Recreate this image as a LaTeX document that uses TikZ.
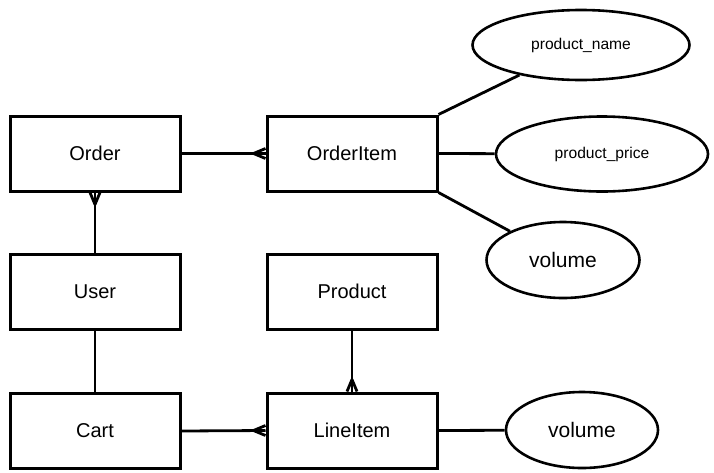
\documentclass[tikz,border=0pt]{standalone}
\usepackage{fontspec}
\setmainfont{Liberation Sans}
\usetikzlibrary{shapes.geometric}

\newcommand{\manyend}[2]{%
  \draw[link] (#1) ++(#2+180:12) -- ++(#2+22.6:13);
  \draw[link] (#1) ++(#2+180:12) -- ++(#2-22.6:13);
}

\begin{document}
\begin{tikzpicture}[x=1pt,y=-1pt,
    entity/.style={draw=black,line width=3pt,minimum width=170pt,minimum height=75pt,inner sep=0pt,font=\fontsize{20}{24}\selectfont},
    attr/.style={draw=black,line width=2.6pt,ellipse,inner sep=0pt,font=\fontsize{15.6}{18}\selectfont},
    link/.style={black,line width=2.8pt}]
              \useasboundingbox (0,0) rectangle (714,472);
              \node[entity] (Order) at (95,153.5) {Order};
              \node[entity] (OrderItem) at (352,153.5) {OrderItem};
              \node[entity] (User) at (95,291.5) {User};
              \node[entity] (Product) at (352,291.5) {Product};
              \node[entity] (Cart) at (95,431) {Cart};
              \node[entity] (LineItem) at (352,430.5) {LineItem};
              \node[attr,minimum width=217pt,minimum height=70pt] (pname) at (581,45) {product\_name};
              \node[attr,minimum width=212pt,minimum height=75pt] (pprice) at (602,154) {product\_price};
              \node[attr,minimum width=153pt,minimum height=76pt,font=\fontsize{21}{24}\selectfont] (vola) at (563,260) {volume};
              \node[attr,minimum width=152pt,minimum height=76pt,font=\fontsize{21}{24}\selectfont] (volb) at (582,430) {volume};
              \draw[link] (Order.east) -- (OrderItem.west);
              \manyend{OrderItem.west}{0}
              \draw[link] (User.north) -- (Order.south);
              \manyend{Order.south}{-90}
              \draw[link] (User.south) -- (Cart.north);
              \draw[link] (Cart.east) -- (LineItem.west);
              \manyend{LineItem.west}{0}
              \draw[link] (Product.south) -- (LineItem.north);
              \manyend{LineItem.north}{90}
              \draw[link] (OrderItem.north east) -- (pname);
              \draw[link] (OrderItem.east) -- (pprice);
              \draw[link] (OrderItem.south east) -- (vola);
              \draw[link] (LineItem.east) -- (volb);
            \end{tikzpicture}
\end{document}
